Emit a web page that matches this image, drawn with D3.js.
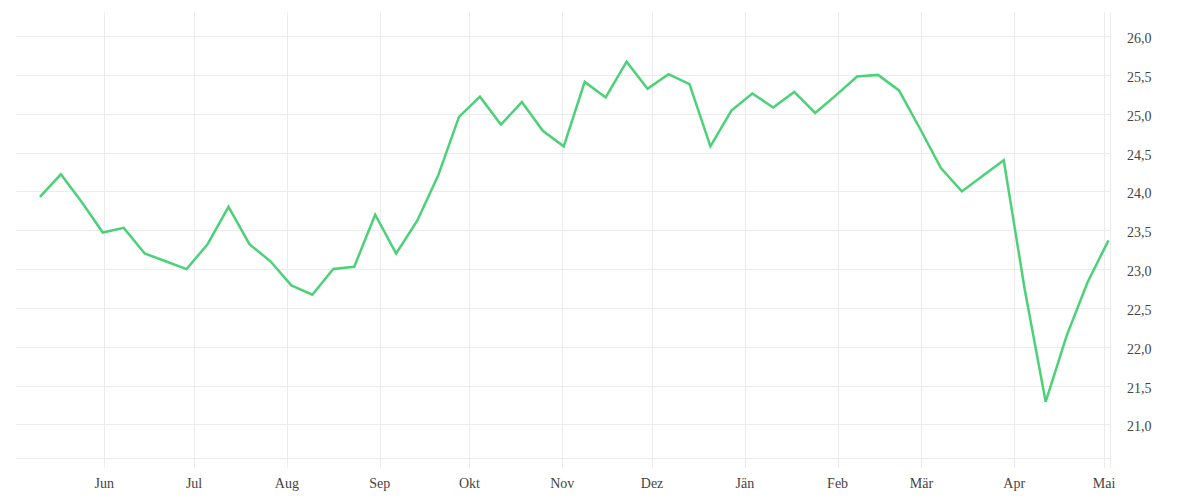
<!DOCTYPE html>
<html>
<head>
<meta charset="utf-8">
<script src="https://cdn.jsdelivr.net/npm/d3@7/dist/d3.min.js"></script>
<style>
  html, body { margin: 0; padding: 0; background: #fff; }
  svg text { font-family: "Liberation Serif", "DejaVu Serif", serif; font-size: 14px; fill: #444; }
</style>
</head>
<body>
<svg id="chart" width="1200" height="500"></svg>
<script>
const dates = [
  "2022-05-10","2022-05-17","2022-05-24","2022-05-31","2022-06-07","2022-06-14","2022-06-21","2022-06-28",
  "2022-07-05","2022-07-12","2022-07-19","2022-07-26","2022-08-02","2022-08-09","2022-08-16","2022-08-23",
  "2022-08-30","2022-09-06","2022-09-13","2022-09-20","2022-09-27","2022-10-04","2022-10-11","2022-10-18",
  "2022-10-25","2022-11-01","2022-11-08","2022-11-15","2022-11-22","2022-11-29","2022-12-06","2022-12-13",
  "2022-12-20","2022-12-27","2023-01-03","2023-01-10","2023-01-17","2023-01-24","2023-01-31","2023-02-07",
  "2023-02-14","2023-02-21","2023-02-28","2023-03-07","2023-03-14","2023-03-21","2023-03-28","2023-04-04",
  "2023-04-11","2023-04-18","2023-04-25","2023-05-02"
];
const values = [
  23.93, 24.22, 23.86, 23.47, 23.53, 23.20, 23.10, 23.00,
  23.32, 23.80, 23.32, 23.10, 22.79, 22.67, 23.00, 23.03,
  23.70, 23.20, 23.62, 24.20, 24.96, 25.22, 24.86, 25.15,
  24.78, 24.58, 25.41, 25.21, 25.67, 25.32, 25.51, 25.38,
  24.58, 25.04, 25.26, 25.08, 25.28, 25.01, 25.24, 25.48,
  25.50, 25.30, 24.81, 24.30, 24.00, 24.20, 24.40, 22.74,
  21.29, 22.14, 22.83, 23.37
];
const monthLabels = ["Jän","Feb","Mär","Apr","Mai","Jun","Jul","Aug","Sep","Okt","Nov","Dez"];
const yTicks = [21.0, 21.5, 22.0, 22.5, 23.0, 23.5, 24.0, 24.5, 25.0, 25.5, 26.0];

const svg = d3.select("#chart");
const mLeft = 16, mRight = 1110, mTop = 12, mBottom = 458;

const parse = d3.timeParse("%Y-%m-%d");
const data = dates.map((d, i) => ({ date: d3.timeHour.offset(parse(d), 12), value: values[i] }));

const x = d3.scaleTime()
  .domain([d3.timeHour.offset(parse("2022-05-02"), 12), parse("2023-05-03")])
  .range([mLeft, mRight]);
const y = d3.scaleLinear()
  .domain([20.567, 26.31])
  .range([mBottom, mTop]);

const gridColor = "#ececec";

// horizontal grid lines
svg.append("g").selectAll("line").data(yTicks).join("line")
  .attr("x1", mLeft).attr("x2", mRight)
  .attr("y1", d => Math.round(y(d)) + 0.5).attr("y2", d => Math.round(y(d)) + 0.5)
  .attr("stroke", gridColor).attr("stroke-width", 1);
// bottom line
svg.append("line")
  .attr("x1", mLeft).attr("x2", mRight)
  .attr("y1", mBottom + 0.5).attr("y2", mBottom + 0.5)
  .attr("stroke", gridColor).attr("stroke-width", 1);

// vertical grid lines at month starts
const monthTicks = x.ticks(d3.timeMonth.every(1)).filter(d => x(d) > mLeft + 5);
svg.append("g").selectAll("line").data(monthTicks).join("line")
  .attr("x1", d => Math.round(x(d)) + 0.5).attr("x2", d => Math.round(x(d)) + 0.5)
  .attr("y1", mTop).attr("y2", mBottom + 10)
  .attr("stroke", gridColor).attr("stroke-width", 1);
// right edge line
svg.append("line")
  .attr("x1", mRight + 0.5).attr("x2", mRight + 0.5)
  .attr("y1", mTop).attr("y2", mBottom + 10)
  .attr("stroke", gridColor).attr("stroke-width", 1);

// x labels
svg.append("g").selectAll("text").data(monthTicks).join("text")
  .attr("x", d => x(d))
  .attr("y", 488)
  .attr("text-anchor", "middle")
  .text(d => monthLabels[d.getMonth()]);

// y labels
const fmt = d => d.toFixed(1).replace(".", ",");
svg.append("g").selectAll("text").data(yTicks).join("text")
  .attr("x", 1127)
  .attr("y", d => y(d) + 7)
  .attr("text-anchor", "start")
  .text(fmt);

// line
const line = d3.line().x(d => x(d.date)).y(d => y(d.value));
svg.append("path")
  .datum(data)
  .attr("d", line)
  .attr("fill", "none")
  .attr("stroke", "#4cd178")
  .attr("stroke-width", 2.5)
  .attr("stroke-linejoin", "miter");
</script>
</body>
</html>
